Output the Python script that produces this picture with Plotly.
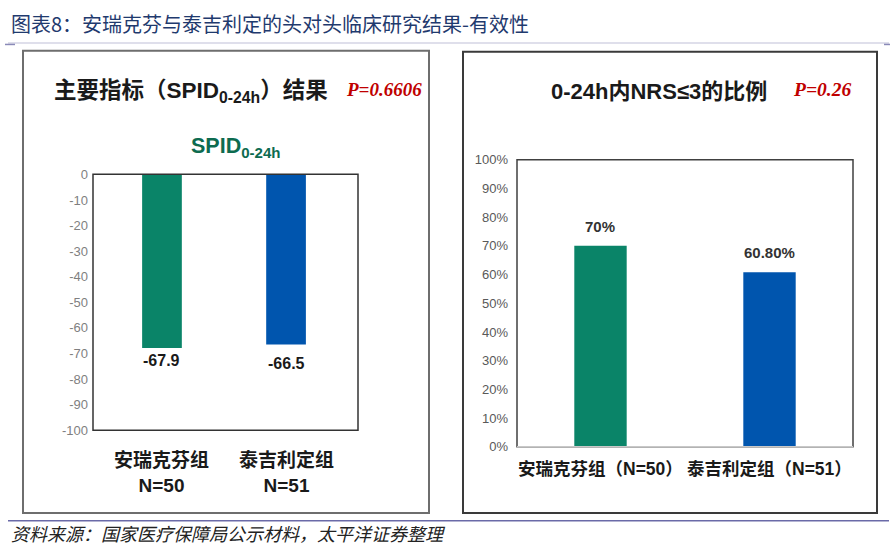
import plotly.graph_objects as go

# ---- data ----
left_categories = ["安瑞克芬组<br>N=50", "泰吉利定组<br>N=51"]
left_values = [-67.9, -66.5]
left_labels = ["-67.9", "-66.5"]
left_ticks = [0, -10, -20, -30, -40, -50, -60, -70, -80, -90, -100]

right_categories = ["安瑞克芬组（N=50）", "泰吉利定组（N=51）"]
right_values = [70, 60.8]
right_labels = ["70%", "60.80%"]
right_ticks = [0, 10, 20, 30, 40, 50, 60, 70, 80, 90, 100]

bar_colors = ["#0A8468", "#0055AE"]

W, H = 895, 555
def px(x):
    return x / W
def py(y):
    return 1 - y / H

SANS = "Liberation Sans, Arial, Noto Sans CJK SC, sans-serif"
CJK = "Liberation Sans, Noto Sans CJK SC, sans-serif"

fig = go.Figure()

fig.add_trace(go.Bar(
    x=[0, 1], y=left_values, marker=dict(color=bar_colors, line=dict(width=0)),
    width=0.32, xaxis="x", yaxis="y", showlegend=False, hoverinfo="skip",
))
fig.add_trace(go.Bar(
    x=[0, 1], y=right_values, marker=dict(color=bar_colors, line=dict(width=0)),
    width=0.31, xaxis="x2", yaxis="y2", showlegend=False, hoverinfo="skip",
))

fig.update_layout(
    width=W, height=H, margin=dict(l=0, r=0, t=0, b=0),
    paper_bgcolor="white", plot_bgcolor="white",
    xaxis=dict(domain=[px(93), px(358)], range=[-0.556, 1.58], showticklabels=False,
               showgrid=False, zeroline=False, showline=False),
    yaxis=dict(domain=[py(435), py(172)], range=[-100, 0], tickvals=left_ticks,
               ticktext=[str(t) for t in left_ticks], showgrid=False, zeroline=False,
               showline=False, ticks="", tickfont=dict(family=SANS, size=13, color="#7f7f7f"),
               ticklabelstandoff=4),
    xaxis2=dict(domain=[px(517), px(853)], range=[-0.494, 1.494], showticklabels=False,
                showgrid=False, zeroline=False, showline=False, anchor="y2"),
    yaxis2=dict(domain=[py(452), py(157)], range=[0, 100], tickvals=right_ticks,
                ticktext=[f"{t}%" for t in right_ticks], showgrid=False, zeroline=False,
                showline=False, ticks="", anchor="x2",
                tickfont=dict(family=SANS, size=13, color="#595959"), ticklabelstandoff=8),
)

shapes = []
# header line
shapes.append(dict(type="line", xref="paper", yref="paper", x0=px(8), x1=px(889), y0=py(37), y1=py(37),
                   line=dict(color="#d4d4e4", width=1.5)))
shapes.append(dict(type="line", xref="paper", yref="paper", x0=px(5), x1=px(15), y0=py(38.5), y1=py(38.5),
                   line=dict(color="#8a8ab8", width=1.5)))
shapes.append(dict(type="line", xref="paper", yref="paper", x0=px(884), x1=px(890), y0=py(38.5), y1=py(38.5),
                   line=dict(color="#8a8ab8", width=1.5)))
# footer line
shapes.append(dict(type="line", xref="paper", yref="paper", x0=px(8), x1=px(889), y0=py(528), y1=py(528),
                   line=dict(color="#6a6aa8", width=1.5)))
# panel boxes
shapes.append(dict(type="rect", xref="paper", yref="paper", x0=px(23), x1=px(429), y0=py(520), y1=py(45),
                   line=dict(color="#6e6e6e", width=2)))
shapes.append(dict(type="rect", xref="paper", yref="paper", x0=px(463), x1=px(877), y0=py(520), y1=py(46),
                   line=dict(color="#3a3a3a", width=2)))
# plot frames
shapes.append(dict(type="rect", xref="x domain", yref="y domain", x0=0, x1=1, y0=0, y1=1,
                   line=dict(color="#333333", width=1.5), layer="above"))
shapes.append(dict(type="rect", xref="x2 domain", yref="y2 domain", x0=0, x1=1, y0=0, y1=1,
                   line=dict(color="#404040", width=1.5), layer="above"))
shapes.append(dict(type="line", xref="x2 domain", yref="y2 domain", x0=0, x1=1, y0=0, y1=0,
                   line=dict(color="#c8c8c8", width=1.5), layer="above"))
fig.update_layout(shapes=shapes)

ann = []
ann.append(dict(text="图表8：安瑞克芬与泰吉利定的头对头临床研究结果-有效性", xref="paper", yref="paper",
                x=px(9), y=py(17), xanchor="left", yanchor="middle", showarrow=False,
                font=dict(family="Noto Sans CJK SC", size=20, color="#1f3a6e")))
ann.append(dict(text="资料来源：国家医疗保障局公示材料，太平洋证券整理", xref="paper", yref="paper",
                x=px(9), y=py(541), xanchor="left", yanchor="middle", showarrow=False,
                font=dict(family="Noto Sans CJK SC", size=18, color="#222222", style="italic")))
# left panel titles
ann.append(dict(text="<b>主要指标（SPID<sub>0-24h</sub>）结果</b>", xref="paper", yref="paper",
                x=px(191), y=py(87), xanchor="center", yanchor="middle", showarrow=False,
                font=dict(family=CJK, size=22.5, color="#1a1a1a")))
ann.append(dict(text="<b><i>P=0.6606</i></b>", xref="paper", yref="paper",
                x=px(384), y=py(85), xanchor="center", yanchor="middle", showarrow=False,
                font=dict(family="Liberation Serif, Times New Roman, serif", size=19, color="#c00000")))
ann.append(dict(text="<b>SPID<sub>0-24h</sub></b>", xref="paper", yref="paper",
                x=px(236), y=py(144), xanchor="center", yanchor="middle", showarrow=False,
                font=dict(family=SANS, size=21.5, color="#0d6b50")))
# right panel titles
ann.append(dict(text="<b>0-24h内NRS≤3的比例</b>", xref="paper", yref="paper",
                x=px(659), y=py(87), xanchor="center", yanchor="middle", showarrow=False,
                font=dict(family=CJK, size=22, color="#1a1a1a")))
ann.append(dict(text="<b><i>P=0.26</i></b>", xref="paper", yref="paper",
                x=px(822), y=py(85), xanchor="center", yanchor="middle", showarrow=False,
                font=dict(family="Liberation Serif, Times New Roman, serif", size=19.5, color="#c00000")))
# value labels
for i, (v, t) in enumerate(zip(left_values, left_labels)):
    ann.append(dict(text=f"<b>{t}</b>", xref="x", yref="y", x=i, y=v,
                    xanchor="center", yanchor="top", yshift=-2 - 6 * i, showarrow=False,
                    font=dict(family=SANS, size=16, color="#1a1a1a")))
for i, (v, t) in enumerate(zip(right_values, right_labels)):
    ann.append(dict(text=f"<b>{t}</b>", xref="x2", yref="y2", x=i, y=v,
                    xanchor="center", yanchor="bottom", yshift=9, showarrow=False,
                    font=dict(family=SANS, size=15, color="#333333")))
# category labels
for i, c in enumerate(left_categories):
    ann.append(dict(text=f"<b>{c}</b>", xref="x", yref="paper", x=i, y=py(478),
                    xanchor="center", yanchor="middle", showarrow=False,
                    font=dict(family=CJK, size=19, color="#1a1a1a")))
for i, c in enumerate(right_categories):
    ann.append(dict(text=f"<b>{c}</b>", xref="x2", yref="paper", x=i, y=py(475),
                    xanchor="center", yanchor="middle", showarrow=False,
                    font=dict(family=CJK, size=17.5, color="#1a1a1a")))
fig.update_layout(annotations=ann)

fig.write_html("out.html")
